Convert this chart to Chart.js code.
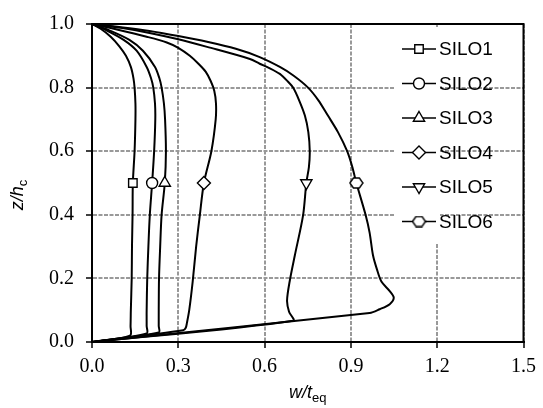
<!DOCTYPE html>
<html>
<head>
<meta charset="utf-8">
<script src="https://cdn.jsdelivr.net/npm/chart.js@4/dist/chart.umd.min.js"></script>
<style>
  body { margin: 0; background: #fff; }
</style>
</head>
<body>
<canvas id="grafico" width="543" height="408"></canvas>
<script>
// valores: x = w/teq, z = z/hc
const seriesNames = ['SILO1', 'SILO2', 'SILO3', 'SILO4', 'SILO5', 'SILO6'];

const silo1X = [0, 0.03, 0.065, 0.095, 0.118, 0.135, 0.144, 0.148, 0.151, 0.151, 0.148, 0.142, 0.141, 0.139, 0.138, 0.135, 0.134, 0.132, 0];
const silo1Z = [1, 0.985, 0.96, 0.93, 0.9, 0.865, 0.83, 0.8, 0.75, 0.7, 0.6, 0.5, 0.4, 0.3, 0.2, 0.1, 0.05, 0.02, 0];

const silo2X = [0, 0.05, 0.11, 0.155, 0.19, 0.205, 0.213, 0.219, 0.22, 0.216, 0.209, 0.201, 0.196, 0.192, 0.19, 0.19, 0.19, 0];
const silo2Z = [1, 0.98, 0.95, 0.916, 0.865, 0.83, 0.8, 0.75, 0.7, 0.6, 0.5, 0.4, 0.3, 0.2, 0.1, 0.05, 0.027, 0];

const silo3X = [0, 0.06, 0.13, 0.177, 0.219, 0.234, 0.242, 0.25, 0.254, 0.257, 0.253, 0.242, 0.237, 0.233, 0.232, 0.232, 0.232, 0];
const silo3Z = [1, 0.98, 0.95, 0.916, 0.865, 0.83, 0.8, 0.75, 0.7, 0.6, 0.5, 0.4, 0.3, 0.2, 0.1, 0.05, 0.03, 0];

const silo4X = [0, 0.09, 0.19, 0.26, 0.3, 0.34, 0.37, 0.395, 0.413, 0.425, 0.431, 0.43, 0.415, 0.389, 0.375, 0.362, 0.35, 0.338, 0.33, 0.326, 0.317, 0];
const silo4Z = [1, 0.982, 0.96, 0.942, 0.925, 0.9, 0.875, 0.85, 0.82, 0.79, 0.75, 0.7, 0.6, 0.5, 0.4, 0.3, 0.19, 0.1, 0.06, 0.045, 0.037, 0];

const silo5X = [0, 0.1, 0.2, 0.3, 0.4, 0.549, 0.583, 0.62, 0.653, 0.68, 0.699, 0.72, 0.74, 0.752, 0.757, 0.754, 0.745, 0.734, 0.705, 0.688, 0.678, 0.685, 0.699, 0];
const silo5Z = [1, 0.988, 0.972, 0.952, 0.928, 0.89, 0.875, 0.86, 0.843, 0.82, 0.8, 0.76, 0.712, 0.66, 0.6, 0.55, 0.5, 0.4, 0.272, 0.195, 0.13, 0.095, 0.067, 0];

const silo6X = [0, 0.1, 0.2, 0.3, 0.4, 0.5, 0.583, 0.653, 0.7, 0.751, 0.787, 0.82, 0.855, 0.887, 0.905, 0.919, 0.951, 0.965, 0.977, 0.99, 1.006, 1.035, 1.049, 1.035, 1.0, 0.965, 0];
const silo6Z = [1, 0.99, 0.978, 0.962, 0.944, 0.922, 0.896, 0.865, 0.838, 0.8, 0.76, 0.712, 0.66, 0.6, 0.55, 0.5, 0.4, 0.344, 0.272, 0.23, 0.19, 0.16, 0.139, 0.119, 0.103, 0.091, 0];

const xTicks = [0, 0.3, 0.6, 0.9, 1.2, 1.5];
const yTicks = [0, 0.2, 0.4, 0.6, 0.8, 1.0];

const markerZ = 0.5;

// hexágono para o SILO6
function criarHexagono() {
  const c = document.createElement('canvas');
  c.width = 15; c.height = 12;
  const g = c.getContext('2d');
  g.beginPath();
  g.moveTo(1, 6); g.lineTo(4.5, 1); g.lineTo(10.5, 1);
  g.lineTo(14, 6); g.lineTo(10.5, 11); g.lineTo(4.5, 11);
  g.closePath();
  g.fillStyle = '#fff'; g.fill();
  g.lineWidth = 1.4; g.strokeStyle = '#000'; g.stroke();
  return c;
}
const hexagono = criarHexagono();

const estilos = [
  { style: 'rect', rot: 0, r: 6 },
  { style: 'circle', rot: 0, r: 5.5 },
  { style: 'triangle', rot: 0, r: 6.5 },
  { style: 'rectRot', rot: 0, r: 6.5 },
  { style: 'triangle', rot: 180, r: 6.5 },
  { style: hexagono, rot: 0, r: 6 }
];

const pares = [[silo1X, silo1Z], [silo2X, silo2Z], [silo3X, silo3Z], [silo4X, silo4Z], [silo5X, silo5Z], [silo6X, silo6Z]];

const datasets = pares.map(([xs, zs], i) => ({
  label: seriesNames[i],
  data: xs.map((x, k) => ({ x: x, y: zs[k] })),
  showLine: true,
  borderColor: '#000',
  borderWidth: 2,
  tension: 0.3,
  fill: false,
  pointStyle: estilos[i].style,
  pointRotation: estilos[i].rot,
  pointRadius: ctx => (ctx.raw && ctx.raw.y === markerZ ? estilos[i].r : 0),
  pointBackgroundColor: '#fff',
  pointBorderColor: '#000',
  pointBorderWidth: 1.4
}));

function desenharMarcador(ctx, i, x, y) {
  const e = estilos[i];
  ctx.save();
  ctx.fillStyle = '#fff';
  ctx.strokeStyle = '#000';
  ctx.lineWidth = 1.4;
  if (e.style === hexagono) {
    ctx.drawImage(hexagono, x - hexagono.width / 2, y - hexagono.height / 2);
    ctx.restore();
    return;
  }
  ctx.translate(x, y);
  ctx.rotate(e.rot * Math.PI / 180);
  const r = e.r;
  ctx.beginPath();
  if (e.style === 'rect') {
    const s = r / Math.SQRT2;
    ctx.rect(-s, -s, 2 * s, 2 * s);
  } else if (e.style === 'circle') {
    ctx.arc(0, 0, r, 0, Math.PI * 2);
  } else if (e.style === 'triangle') {
    ctx.moveTo(0, -r);
    ctx.lineTo(r * 0.866, r * 0.5);
    ctx.lineTo(-r * 0.866, r * 0.5);
    ctx.closePath();
  } else if (e.style === 'rectRot') {
    ctx.moveTo(0, -r); ctx.lineTo(r, 0); ctx.lineTo(0, r); ctx.lineTo(-r, 0);
    ctx.closePath();
  }
  ctx.fill();
  ctx.stroke();
  ctx.restore();
}

const decoracao = {
  id: 'decoracao',
  beforeDatasetsDraw(chart) {
    // fundo branco da legenda por cima da grade
    const ctx = chart.ctx;
    ctx.save();
    ctx.fillStyle = '#fff';
    ctx.fillRect(394, 27, 46, 216);
    ctx.restore();
  },
  afterDatasetsDraw(chart) {
    const { ctx, chartArea: a } = chart;
    ctx.save();
    ctx.strokeStyle = '#000';
    ctx.lineWidth = 2;
    ctx.strokeRect(a.left, a.top, a.right - a.left, a.bottom - a.top);
    ctx.restore();
  },
  afterDraw(chart) {
    const { ctx, chartArea: a } = chart;
    ctx.save();
    // legenda
    seriesNames.forEach((nome, i) => {
      const y = 49 + i * 34.5;
      ctx.strokeStyle = '#000';
      ctx.lineWidth = 1.5;
      ctx.beginPath();
      ctx.moveTo(402, y); ctx.lineTo(436, y);
      ctx.stroke();
      desenharMarcador(ctx, i, 419, y);
      ctx.fillStyle = '#000';
      ctx.font = '19px "Liberation Sans", Arial, sans-serif';
      ctx.textAlign = 'left';
      ctx.textBaseline = 'middle';
      ctx.fillText(nome, 439, y + 1);
    });

    // título do eixo x: w/teq
    ctx.fillStyle = '#000';
    ctx.textBaseline = 'alphabetic';
    ctx.textAlign = 'left';
    const fontePrinc = 'italic 18px "Liberation Sans", Arial, sans-serif';
    const fonteSub = '13px "Liberation Sans", Arial, sans-serif';
    ctx.font = fontePrinc;
    const w1 = ctx.measureText('w/t').width;
    ctx.font = fonteSub;
    const w2 = ctx.measureText('eq').width;
    let x0 = (a.left + a.right) / 2 - (w1 + w2) / 2;
    ctx.font = fontePrinc;
    ctx.fillText('w/t', x0, 398);
    ctx.font = fonteSub;
    ctx.fillText('eq', x0 + w1, 402);

    // título do eixo y: z/hc
    ctx.translate(23, (a.top + a.bottom) / 2 + 12);
    ctx.rotate(-Math.PI / 2);
    ctx.font = fontePrinc;
    const h1 = ctx.measureText('z/h').width;
    ctx.font = fonteSub;
    const h2 = ctx.measureText('c').width;
    x0 = -(h1 + h2) / 2;
    ctx.font = fontePrinc;
    ctx.fillText('z/h', x0, 0);
    ctx.font = fonteSub;
    ctx.fillText('c', x0 + h1, 4);
    ctx.restore();
  }
};

const fonteTicks = { family: '"Liberation Serif", "Times New Roman", serif', size: 20 };
const grade = { color: '#999999', lineWidth: 2, tickColor: '#000', tickLength: 6, tickWidth: 1.5 };

new Chart(document.getElementById('grafico'), {
  type: 'scatter',
  data: { datasets: datasets },
  plugins: [decoracao],
  options: {
    responsive: false,
    animation: false,
    events: [],
    layout: { padding: { top: 16, right: 19, bottom: 0, left: 0 } },
    plugins: {
      legend: { display: false },
      tooltip: { enabled: false }
    },
    scales: {
      x: {
        type: 'linear',
        min: 0,
        max: 1.5,
        afterBuildTicks: s => { s.ticks = xTicks.map(v => ({ value: v })); },
        afterFit: s => { s.height = 66; },
        ticks: {
          color: '#000',
          font: fonteTicks,
          padding: 7,
          maxRotation: 0,
          callback: v => v.toFixed(1)
        },
        grid: grade,
        border: { color: '#000', width: 2, dash: [4, 1.5] }
      },
      y: {
        type: 'linear',
        min: 0,
        max: 1,
        afterBuildTicks: s => { s.ticks = yTicks.map(v => ({ value: v })); },
        afterFit: s => { s.width = 92; },
        ticks: {
          color: '#000',
          font: fonteTicks,
          padding: 12,
          callback: v => v.toFixed(1)
        },
        grid: grade,
        border: { color: '#000', width: 2, dash: [4, 1.5] }
      }
    }
  }
});
</script>
</body>
</html>
